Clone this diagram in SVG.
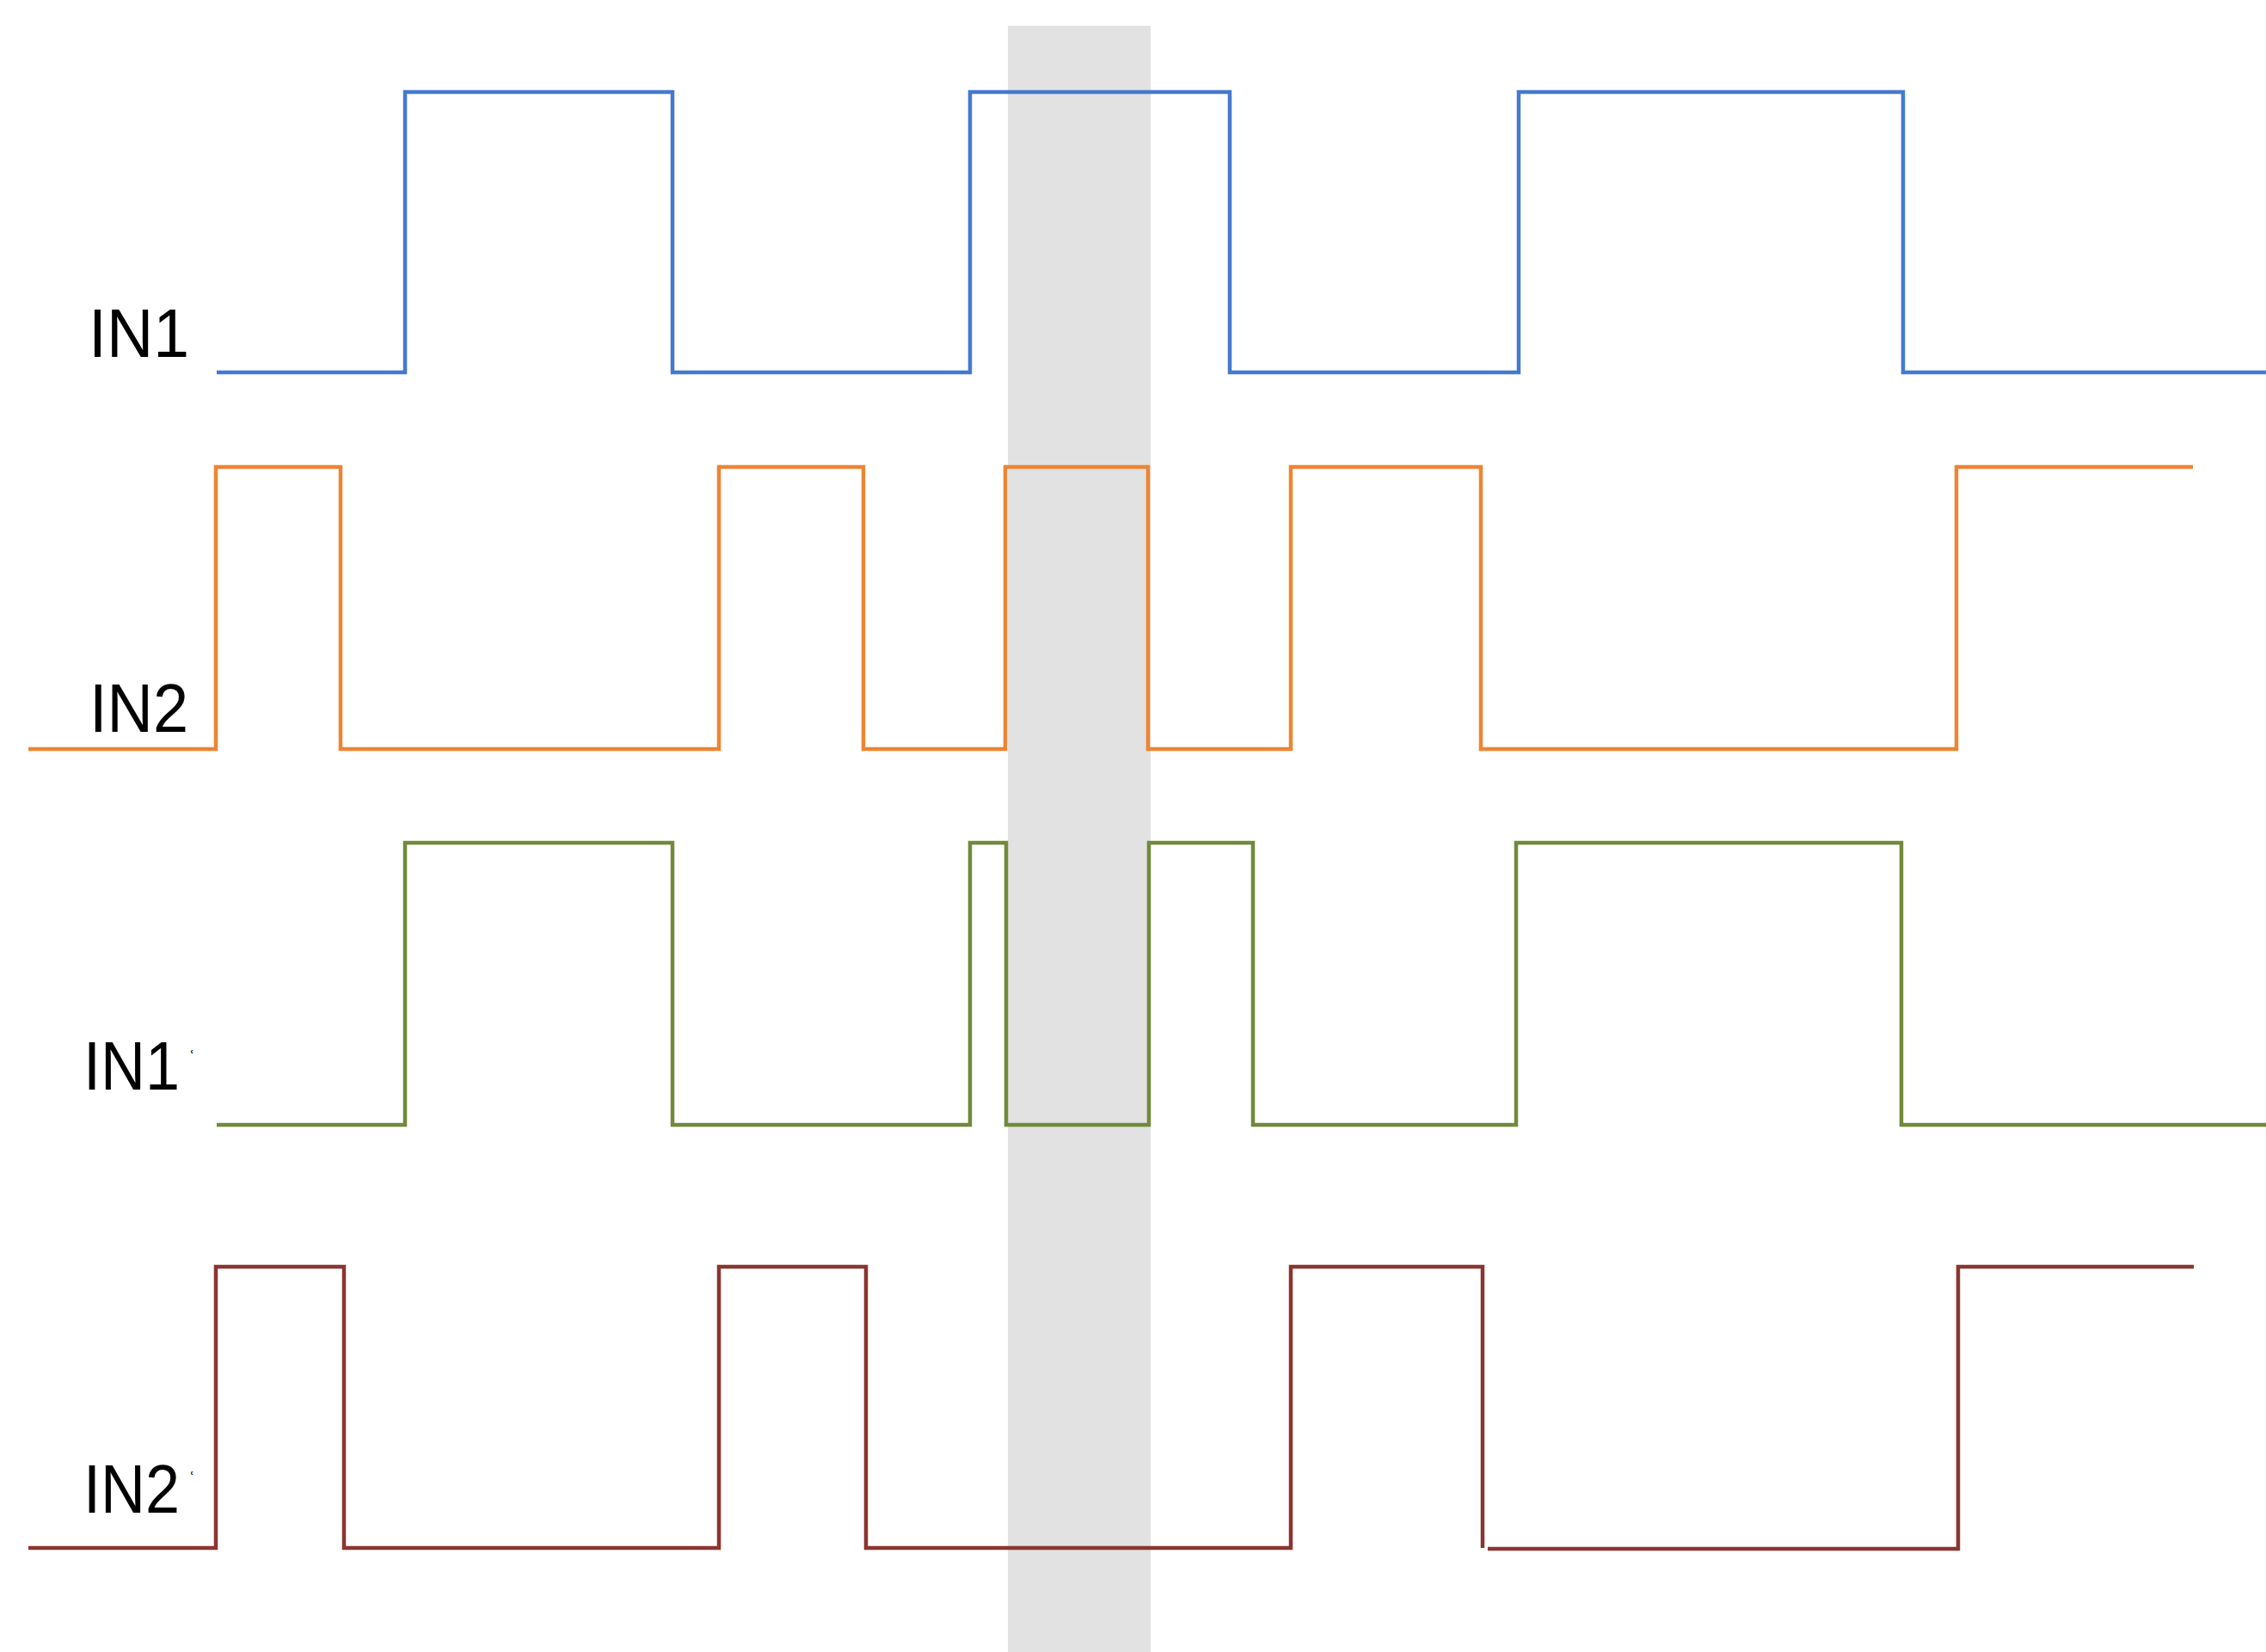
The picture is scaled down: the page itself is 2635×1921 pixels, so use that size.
<svg xmlns="http://www.w3.org/2000/svg" width="2635" height="1921" viewBox="0 0 2635 1921">
<style>
.sig{fill:none;stroke-width:4.5;stroke-linejoin:miter;stroke-linecap:butt}
.lbl{font-family:"Liberation Sans","DejaVu Sans",sans-serif;font-size:80px;fill:#000}
.mark{font-family:"Liberation Sans","DejaVu Sans",sans-serif;font-size:24px;fill:#000}
</style>
<rect width="2635" height="1921" fill="#ffffff"/>
<g id="band">
<rect x="1172" y="30" width="166" height="1891" fill="#e2e2e2"/>
</g>
<g id="connectors">
<polyline id="in1-wave" class="sig" stroke="#4479d0" points="252,433 471,433 471,107 782,107 782,433 1128,433 1128,107 1430,107 1430,433 1766,433 1766,107 2213,107 2213,433 2635,433"/>
<polyline id="in2-wave" class="sig" stroke="#ee8433" points="33,871 251,871 251,543 396,543 396,871 836,871 836,543 1004,543 1004,871 1169,871 1169,543 1335,543 1335,871 1501,871 1501,543 1722,543 1722,871 2275,871 2275,543 2550,543"/>
<polyline id="in1p-wave" class="sig" stroke="#72893b" points="252,1308 471,1308 471,980 782,980 782,1308 1128,1308 1128,980 1170,980 1170,1308 1336,1308 1336,980 1457,980 1457,1308 1763,1308 1763,980 2211,980 2211,1308 2635,1308"/>
<polyline id="in2p-wave-a" class="sig" stroke="#8b3530" points="33,1800 251,1800 251,1473 400,1473 400,1800 836,1800 836,1473 1007,1473 1007,1800 1501,1800 1501,1473 1724,1473 1724,1800"/>
<polyline id="in2p-wave-b" class="sig" stroke="#8b3530" points="1730,1801 2277,1801 2277,1473 2551,1473"/>
</g>
<g id="label-in1"><text class="lbl" x="103" y="415" textLength="117" lengthAdjust="spacingAndGlyphs">IN1</text></g>
<g id="label-in2"><text class="lbl" x="104" y="851" textLength="115" lengthAdjust="spacingAndGlyphs">IN2</text></g>
<g id="label-in1p"><text class="lbl" x="97" y="1267" textLength="112" lengthAdjust="spacingAndGlyphs">IN1</text><text class="mark" x="219" y="1238">ʿ</text></g>
<g id="label-in2p"><text class="lbl" x="97" y="1759" textLength="112" lengthAdjust="spacingAndGlyphs">IN2</text><text class="mark" x="219" y="1728">ʿ</text></g>
</svg>
